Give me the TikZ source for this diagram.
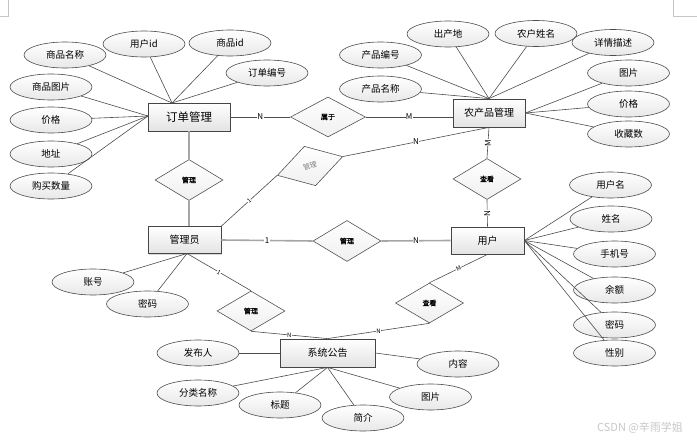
\documentclass[tikz,border=0pt]{standalone}
\usepackage{fontspec}
\setmainfont{Noto Sans CJK SC}
\newfontfamily\relfont[FakeBold=1.2]{Noto Sans CJK SC}
\usetikzlibrary{shapes.geometric,shadows}
\tikzset{
  ent/.style={draw=gray!55!black, line width=0.8pt, top color=white, bottom color=gray!22,
    minimum height=28pt, inner sep=0pt, font=\fontsize{10}{10}\selectfont,
    drop shadow={opacity=0.3, shadow xshift=1.2pt, shadow yshift=-1.2pt}},
  attr/.style={ellipse, draw=gray!60!black, line width=0.6pt, top color=white, bottom color=gray!18,
    minimum width=82pt, minimum height=26pt, inner sep=0pt, font=\fontsize{9.5}{10}\selectfont},
  rel/.style={diamond, draw=gray!65!black, line width=0.6pt, top color=white, bottom color=gray!12,
    minimum width=68pt, minimum height=41pt, inner sep=0pt, font=\relfont\fontsize{7}{7}\selectfont},
  ln/.style={draw=gray!60!black, line width=0.6pt},
  thk/.style={draw=gray!70, line width=1.6pt},
  card/.style={fill=white, inner sep=0.4pt, font=\fontsize{8}{8}\selectfont},
  tcard/.style={fill=white, inner sep=0.3pt, font=\fontsize{6}{6}\selectfont}
}
\begin{document}
\begin{tikzpicture}[x=1pt,y=-1pt]
\useasboundingbox (0,0) rectangle (697,441);
\draw[gray!45] (0,16) -- (8,16) -- (8,0);
\draw[gray!45] (673,0) -- (673,16) -- (697,16);

% entities
\node[ent, minimum width=82pt, font=\fontsize{11.5}{12}\selectfont] (dd) at (189,117) {订单管理};
\node[ent, minimum width=72pt] (np) at (489,113) {农产品管理};
\node[ent, minimum width=73pt, minimum height=27pt] (gly) at (184.5,240) {管理员};
\node[ent, minimum width=73pt, minimum height=27pt] (yh) at (487.5,240.5) {用户};
\node[ent, minimum width=95pt] (xt) at (327.5,353) {系统公告};

% relationships
\node[rel, minimum width=75pt, minimum height=40pt] (sy) at (328,117) {属于};
\node[rel] (r1) at (189,180) {管理};
\node[rel, rotate=16, text=gray, font=\fontsize{7}{7}\selectfont] (r2) at (310,166) {管理};
\node[rel] (r3) at (487,179) {查看};
\node[rel] (r4) at (347,241) {管理};
\node[rel, minimum height=40pt] (r5) at (429.5,303) {查看};
\node[rel, minimum height=40pt] (r6) at (251,311) {管理};

% attributes of 订单管理
\node[attr] (a1) at (65,55) {商品名称};
\node[attr] (a2) at (144,44) {用户id};
\node[attr] (a3) at (230,43) {商品id};
\node[attr] (a4) at (267,73) {订单编号};
\node[attr] (a5) at (51,87) {商品图片};
\node[attr] (a6) at (51,120) {价格};
\node[attr] (a7) at (51,154) {地址};
\node[attr] (a8) at (51,186) {购买数量};
\coordinate (ddt) at (172,103);
\coordinate (ddl) at (148,116);
\foreach \a in {a1,a2,a3,a4} \draw[ln] (\a) -- (ddt);
\foreach \a in {a5,a6,a7,a8} \draw[ln] (\a) -- (ddl);

% attributes of 农产品管理
\node[attr] (b1) at (448,34) {出产地};
\node[attr] (b2) at (536,33.5) {农户姓名};
\node[attr] (b3) at (613,42.5) {详情描述};
\node[attr] (b4) at (380.5,55) {产品编号};
\node[attr] (b5) at (380.5,89) {产品名称};
\node[attr] (b6) at (628.5,73) {图片};
\node[attr] (b7) at (628.5,104) {价格};
\node[attr] (b8) at (628.5,134) {收藏数};
\foreach \a in {b1,b2,b3,b4,b5} \draw[ln] (\a) -- (np.north);
\foreach \a in {b6,b7,b8} \draw[ln] (\a) -- (np.east);

% attributes of 用户
\node[attr] (c1) at (610.5,185) {用户名};
\node[attr] (c2) at (611,219) {姓名};
\node[attr] (c3) at (614.5,254) {手机号};
\node[attr] (c4) at (614.5,290) {余额};
\node[attr] (c5) at (614.5,325) {密码};
\node[attr] (c6) at (614.5,353) {性别};
\foreach \a in {c1,c2,c3,c4,c5,c6} \draw[ln] (\a) -- (yh.east);

% attributes of 管理员
\node[attr] (d1) at (93,282) {账号};
\node[attr] (d2) at (147.5,304) {密码};
\coordinate (glyb) at (187,253.5);
\draw[ln] (d1) -- (glyb);
\draw[ln] (d2) -- (glyb);

% attributes of 系统公告
\node[attr] (e1) at (198,353) {发布人};
\node[attr] (e2) at (198,393) {分类名称};
\node[attr] (e3) at (280,405) {标题};
\node[attr] (e4) at (363,418) {简介};
\node[attr] (e5) at (430.5,397) {图片};
\node[attr] (e6) at (458,364) {内容};
\draw[ln] (e1) -- (xt.west);
\draw[ln] (e6) -- (xt.east);
\foreach \a in {e2,e3,e4,e5} \draw[ln] (\a) -- (xt.south);

% relationship connectors
\draw[ln] (dd.east) -- node[card]{N} (sy.west);
\draw[ln] (sy.east) -- node[card]{M} (sy.east -| np.west);
\draw[thk] (dd.south) -- (r1.north);
\draw[thk] (r1.south) -- (r1.south |- gly.north);
\draw[ln] (gly.north east) -- node[tcard, sloped]{1} (r2.west);
\draw[ln] (r2.east) -- node[card]{N} (np.south);
\draw[ln] (r3.north) -- node[card, rotate=90]{M} (np.south);
\draw[ln] (r3.south) -- node[card, rotate=90]{N} (yh.north);
\draw[thk] (gly.east) -- node[card, text=black]{1} (r4.west);
\draw[thk] (r4.east) -- node[card, text=black]{N} (yh.west);
\draw[ln] (yh.south) -- node[tcard, sloped]{M} (r5.north);
\draw[ln] (r5.south) -- node[tcard]{N} (xt.north);
\draw[ln] (r6.south) -- node[tcard]{N} (xt.north);
\draw[ln] (glyb) -- node[tcard, sloped]{1} (r6.north);

\node[text=gray!45, font=\fontsize{11}{11}\selectfont] (wm) at (640,428) {CSDN @辛雨学姐};
\end{tikzpicture}
\end{document}
